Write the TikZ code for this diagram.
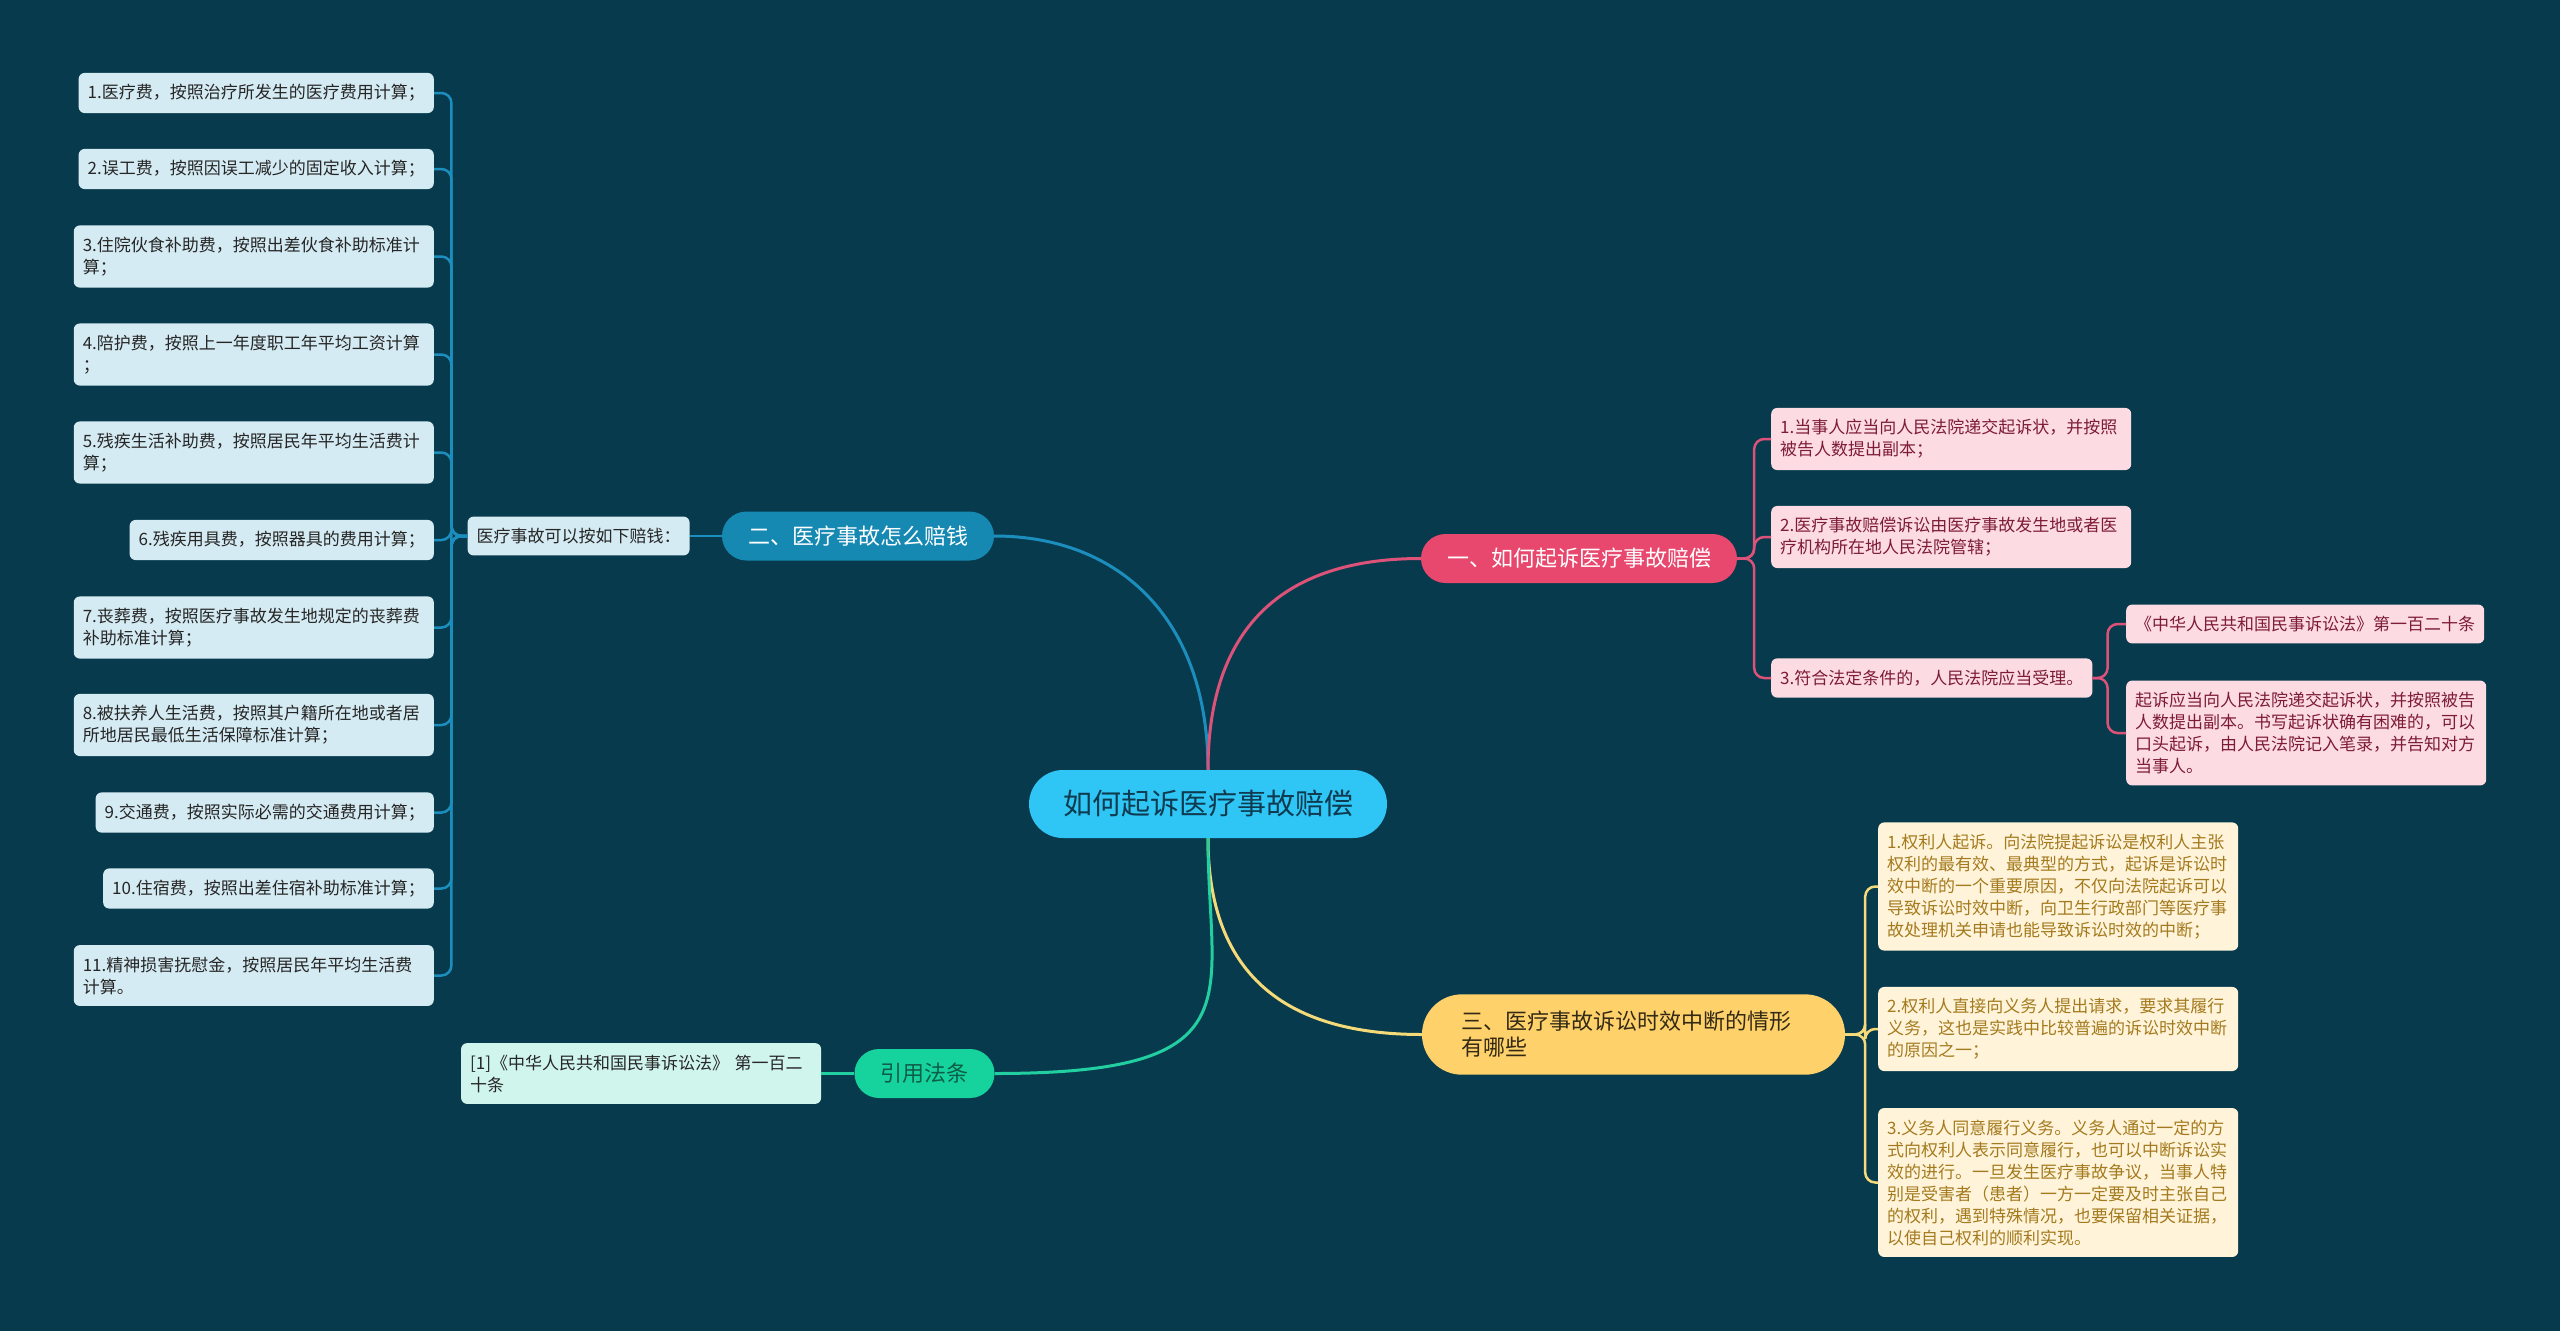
\documentclass[tikz,border=0pt]{standalone}
\usepackage{fontspec}
\setmainfont{Noto Sans CJK SC}
\usetikzlibrary{positioning}
\definecolor{bgcol}{HTML}{083A4D}
\definecolor{rootfill}{HTML}{2FC5F5}
\definecolor{rootink}{HTML}{0E3B4F}
\definecolor{bluefill}{HTML}{1689B3}
\definecolor{blueline}{HTML}{1C8EBD}
\definecolor{blueleaf}{HTML}{D5EBF3}
\definecolor{redfill}{HTML}{E8476E}
\definecolor{redline}{HTML}{DD5279}
\definecolor{redleaf}{HTML}{FCDCE2}
\definecolor{redink}{HTML}{7E1B36}
\definecolor{yellowfill}{HTML}{FFD16A}
\definecolor{yellowline}{HTML}{F4DA78}
\definecolor{yellowleaf}{HTML}{FFF4DA}
\definecolor{yellowink}{HTML}{A47A1E}
\definecolor{greenfill}{HTML}{16D29C}
\definecolor{greenline}{HTML}{22CFA0}
\definecolor{greenleaf}{HTML}{D0F5EC}
\definecolor{greenink}{HTML}{0E5D47}
\tikzset{
    root node/.style={fill=rootfill,text=rootink,font=\fontsize{29}{35}\selectfont,
        rounded corners=34pt,minimum height=68pt,inner xsep=34pt,inner ysep=0pt},
    topic/.style={rounded corners=24.5pt,minimum height=49pt,inner xsep=26pt,inner ysep=0pt,
        font=\fontsize{22}{26}\selectfont},
    leaf/.style={rounded corners=6pt,inner xsep=9pt,inner ysep=11.5pt,align=left,
        font=\fontsize{17}{22}\selectfont},
    wide/.style={text width=342pt},
    blue leaf/.style={leaf,fill=blueleaf,text=black!85},
    red leaf/.style={leaf,fill=redleaf,text=redink},
    yellow leaf/.style={leaf,wide,fill=yellowleaf,text=yellowink},
    green leaf/.style={leaf,fill=greenleaf,text=black!85},
    branch/.style={line width=3pt},
    twig/.style={line width=2.5pt,rounded corners=10pt}
}

\begin{document}
\begin{tikzpicture}[x=1pt,y=-1pt]
    \fill[bgcol] (0,0) rectangle (2560,1331);
    \useasboundingbox (0,0) rectangle (2560,1331);

    % centre and main topics
    \node[root node] (root) at (1208,804) {如何起诉医疗事故赔偿};
    \node[topic,fill=bluefill,text=white] (t2) at (858,536) {二、医疗事故怎么赔钱};
    \node[topic,fill=redfill,text=white] (t1) at (1579,558.5) {一、如何起诉医疗事故赔偿};
    \node[topic,fill=yellowfill,text=black!80!yellowfill,rounded corners=40pt,
        inner xsep=39pt,inner ysep=17pt,minimum height=0pt,text width=345pt,align=left]
        (t3) at (1633.5,1034.5) {三、医疗事故诉讼时效中断的情形\\有哪些};
    \node[topic,fill=greenfill,text=greenink] (t4) at (924.5,1073.5) {引用法条};

    \draw[branch,blueline] (root.north) .. controls +(0,-150) and +(126,0) .. (t2.east);
    \draw[branch,redline] (root.north) .. controls +(0,-130) and +(-150,0) .. (t1.west);
    \draw[branch,yellowline] (root.south) .. controls +(0,150) and +(-120,0) .. (t3.west);
    \draw[branch,greenline] (root.south) .. controls +(0,160) and +(265,0) .. (t4.east);

    % left branch
    \node[blue leaf,left=32pt of t2] (m) {医疗事故可以按如下赔钱：};
    \draw[twig,blueline] (t2.west) -- (m.east);
    \foreach \y/\opt/\txt [count=\i] in {
        93//{1.医疗费，按照治疗所发生的医疗费用计算；},
        169//{2.误工费，按照因误工减少的固定收入计算；},
        256.5/wide/{3.住院伙食补助费，按照出差伙食补助标准计\\算；},
        354.5/wide/{4.陪护费，按照上一年度职工年平均工资计算\\；},
        452.5/wide/{5.残疾生活补助费，按照居民年平均生活费计\\算；},
        540//{6.残疾用具费，按照器具的费用计算；},
        627.5/wide/{7.丧葬费，按照医疗事故发生地规定的丧葬费\\补助标准计算；},
        725/wide/{8.被扶养人生活费，按照其户籍所在地或者居\\所地居民最低生活保障标准计算；},
        812.5//{9.交通费，按照实际必需的交通费用计算；},
        888.5//{10.住宿费，按照出差住宿补助标准计算；},
        975.5/wide/{11.精神损害抚慰金，按照居民年平均生活费\\计算。}}{
        \node[blue leaf,\opt,anchor=east] (b\i) at (434,\y) {\txt};
        \draw[twig,blueline] (m.west) -- ++(-16,0) |- (b\i.east);
    }

    % right branch, pink
    \node[red leaf,wide,anchor=west] (r1) at (1771,439) {1.当事人应当向人民法院递交起诉状，并按照\\被告人数提出副本；};
    \node[red leaf,wide,anchor=west] (r2) at (1771,537) {2.医疗事故赔偿诉讼由医疗事故发生地或者医\\疗机构所在地人民法院管辖；};
    \node[red leaf,anchor=west] (r3) at (1771,678) {3.符合法定条件的，人民法院应当受理。};
    \node[red leaf,anchor=west] (r3a) at (2126,624) {《中华人民共和国民事诉讼法》第一百二十条};
    \node[red leaf,wide,anchor=west] (r3b) at (2126,733) {起诉应当向人民法院递交起诉状，并按照被告\\人数提出副本。书写起诉状确有困难的，可以\\口头起诉，由人民法院记入笔录，并告知对方\\当事人。};
    \foreach \n in {r1,r2,r3}
        \draw[twig,redline] (t1.east) -- ++(17,0) |- (\n.west);
    \foreach \n in {r3a,r3b}
        \draw[twig,redline] (r3.east) -- ++(15,0) |- (\n.west);

    % right branch, yellow
    \node[yellow leaf,anchor=west] (y1) at (1878,886.5) {1.权利人起诉。向法院提起诉讼是权利人主张\\权利的最有效、最典型的方式，起诉是诉讼时\\效中断的一个重要原因，不仅向法院起诉可以\\导致诉讼时效中断，向卫生行政部门等医疗事\\故处理机关申请也能导致诉讼时效的中断；};
    \node[yellow leaf,anchor=west] (y2) at (1878,1029) {2.权利人直接向义务人提出请求，要求其履行\\义务，这也是实践中比较普遍的诉讼时效中断\\的原因之一；};
    \node[yellow leaf,anchor=west] (y3) at (1878,1182.5) {3.义务人同意履行义务。义务人通过一定的方\\式向权利人表示同意履行，也可以中断诉讼实\\效的进行。一旦发生医疗事故争议，当事人特\\别是受害者（患者）一方一定要及时主张自己\\的权利，遇到特殊情况，也要保留相关证据，\\以使自己权利的顺利实现。};
    \foreach \n in {y1,y2,y3}
        \draw[twig,yellowline] (t3.east) -- ++(20,0) |- (\n.west);

    % cited law
    \node[green leaf,wide,left=33pt of t4] (g1) {[1]《中华人民共和国民事诉讼法》 第一百二\\十条};
    \draw[twig,greenline] (t4.west) -- (g1.east);
\end{tikzpicture}
\end{document}
